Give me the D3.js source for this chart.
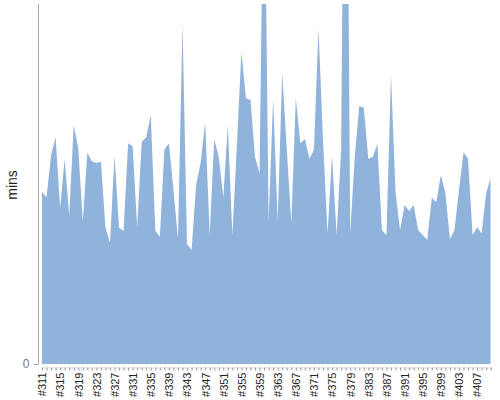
<!DOCTYPE html>
<html>
<head>
<meta charset="utf-8">
<script src="https://cdn.jsdelivr.net/npm/d3@7"></script>
<style>
  body { margin: 0; background: #fff; }
  svg { display: block; font-family: "Liberation Sans", Arial, sans-serif; }
</style>
</head>
<body>
<div id="root"></div>
<script>
'use strict';

// build numbers along the x axis
var builds = [
  311, 312, 313, 314, 315, 316, 317, 318, 319, 320,
  321, 322, 323, 324, 325, 326, 327, 328, 329, 330,
  331, 332, 333, 334, 335, 336, 337, 338, 339, 340,
  341, 342, 343, 344, 345, 346, 347, 348, 349, 350,
  351, 352, 353, 354, 355, 356, 357, 358, 359, 360,
  361, 362, 363, 364, 365, 366, 367, 368, 369, 370,
  371, 372, 373, 374, 375, 376, 377, 378, 379, 380,
  381, 382, 383, 384, 385, 386, 387, 388, 389, 390,
  391, 392, 393, 394, 395, 396, 397, 398, 399, 400,
  401, 402, 403, 404, 405, 406, 407, 408, 409, 410
];

// duration of each build, minutes
var mins = [
  28.7, 27.8, 34.8, 37.8, 26.0, 34.2, 24.7, 39.8, 36.0, 23.8,
  35.2, 33.8, 33.5, 33.7, 22.8, 20.2, 34.7, 22.7, 22.2, 36.8,
  36.3, 22.8, 37.0, 37.8, 41.5, 22.2, 21.2, 35.7, 36.8, 29.0,
  21.0, 56.8, 20.0, 19.0, 29.8, 33.5, 40.3, 21.5, 37.5, 34.5,
  27.7, 39.8, 21.5, 36.5, 52.0, 44.3, 44.0, 34.5, 31.8, 92.0,
  23.7, 44.3, 24.0, 48.5, 36.0, 23.5, 44.3, 36.8, 37.5, 34.2,
  35.7, 56.0, 37.3, 21.8, 34.8, 21.5, 35.7, 130.0, 21.8, 34.5,
  43.0, 42.7, 34.2, 34.5, 36.7, 22.3, 21.5, 48.2, 28.7, 22.3,
  26.5, 25.5, 26.5, 22.3, 21.5, 20.7, 27.7, 27.0, 31.5, 28.5,
  20.8, 22.3, 29.0, 35.3, 34.2, 21.5, 22.8, 21.8, 28.5, 31.0
];

var yTicks = [0];
var labelEvery = 4;

var width = 500;
var height = 400;
var plotTop = 4;
var plotBottom = 364;
var plotLeft = 42;
var plotRight = 490.7;

var data = builds.map((b, i) => ({ name: '#' + b, mins: mins[i] }));

var xScale = d3.scalePoint()
  .domain(data.map(d => d.name))
  .range([plotLeft, plotRight]);

var yScale = d3.scaleLinear()
  .domain([0, 60])
  .range([plotBottom, plotTop]);

var svg = d3.select('#root')
  .append('svg')
  .attr('width', width)
  .attr('height', height);

svg.append('defs')
  .append('clipPath')
  .attr('id', 'plot-clip')
  .append('rect')
  .attr('x', plotLeft)
  .attr('y', plotTop)
  .attr('width', plotRight - plotLeft)
  .attr('height', plotBottom - plotTop);

var area = d3.area()
  .x(d => xScale(d.name))
  .y0(yScale(0))
  .y1(d => yScale(d.mins));

svg.append('path')
  .datum(data)
  .attr('clip-path', 'url(#plot-clip)')
  .attr('fill', '#8fb3db')
  .attr('d', area);

// y axis
var yAxis = svg.append('g')
  .attr('transform', 'translate(38.5,0)')
  .call(d3.axisLeft(yScale).tickValues(yTicks).tickSize(5).tickPadding(4));

yAxis.select('.domain')
  .attr('d', `M0,${plotTop}V${plotBottom + 0.5}`)
  .attr('stroke', '#aaa');
yAxis.selectAll('.tick line').attr('stroke', '#aaa');
yAxis.selectAll('.tick text')
  .attr('fill', '#777')
  .style('font-size', '12px');

svg.append('text')
  .attr('transform', 'translate(17,185) rotate(-90)')
  .attr('text-anchor', 'middle')
  .attr('fill', '#222')
  .style('font-size', '14px')
  .text('mins');

// x axis, a tick per build, a label every fourth
var xAxis = svg.append('g')
  .attr('transform', 'translate(0,367.5)')
  .call(d3.axisBottom(xScale)
    .tickSize(3)
    .tickSizeOuter(0)
    .tickFormat((d, i) => i % labelEvery === 0 ? d : ''));

xAxis.select('.domain').attr('stroke', '#ddd');
xAxis.selectAll('.tick line').attr('stroke', '#999');
xAxis.selectAll('.tick text')
  .attr('fill', '#222')
  .style('font-size', '11px')
  .attr('text-anchor', 'end')
  .attr('transform', 'rotate(-90)')
  .attr('x', -5)
  .attr('y', 0)
  .attr('dy', '0.35em');
</script>
</body>
</html>
